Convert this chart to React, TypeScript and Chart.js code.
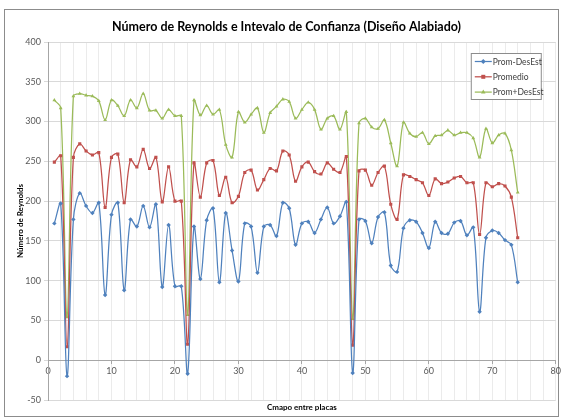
import React, { useEffect, useRef } from "react";
import { Chart, registerables } from "chart.js";

Chart.register(...registerables);

const xPositions = [
  1, 2, 3, 4, 5, 6, 7, 8, 9, 10, 11, 12, 13, 14, 15, 16, 17, 18, 19, 20,
  21, 22, 23, 24, 25, 26, 27, 28, 29, 30, 31, 32, 33, 34, 35, 36, 37, 38, 39, 40,
  41, 42, 43, 44, 45, 46, 47, 48, 49, 50, 51, 52, 53, 54, 55, 56, 57, 58, 59, 60,
  61, 62, 63, 64, 65, 66, 67, 68, 69, 70, 71, 72, 73, 74,
];

const promMenosDesEst = [
  172, 197, -20, 177, 210, 194, 185, 198, 82, 183, 198, 88, 177, 168, 194, 167, 196, 92, 170, 93,
  93, -17, 168, 102, 176, 191, 98, 185, 138, 99, 172, 168, 110, 168, 170, 156, 198, 191, 145, 172,
  174, 160, 177, 192, 172, 181, 199, -16, 177, 175, 147, 180, 186, 119, 111, 166, 176, 174, 160, 141,
  174, 160, 159, 173, 175, 157, 167, 61, 154, 163, 160, 151, 145, 98,
];

const promedio = [
  249, 257, 17, 255, 272, 263, 258, 261, 192, 255, 259, 198, 252, 243, 265, 241, 255, 199, 243, 200,
  200, 20, 248, 205, 248, 251, 207, 230, 198, 206, 236, 239, 214, 227, 241, 238, 263, 258, 225, 243,
  249, 237, 234, 248, 240, 236, 256, 19, 238, 239, 220, 236, 244, 196, 177, 233, 231, 227, 223, 207,
  228, 222, 224, 229, 231, 223, 223, 158, 223, 218, 222, 219, 205, 154,
];

const promMasDesEst = [
  327, 317, 54, 332, 335, 333, 332, 326, 302, 327, 320, 307, 327, 317, 335, 314, 314, 304, 315, 307,
  307, 57, 327, 308, 320, 309, 315, 271, 255, 312, 299, 309, 317, 286, 311, 319, 328, 325, 304, 315,
  324, 315, 290, 304, 307, 290, 312, 52, 298, 304, 293, 291, 302, 273, 244, 299, 285, 281, 286, 272,
  282, 283, 289, 283, 286, 286, 279, 255, 291, 273, 283, 285, 264, 211,
];

const seriesNames = ["Prom-DesEst", "Promedio", "Prom+DesEst"];
const seriesColors = ["#4F81BD", "#C0504D", "#9BBB59"];
const seriesMarkers = ["rectRot", "rect", "triangle"];

const chartTitle = "Número de Reynolds e Intevalo de Confianza (Diseño Alabiado)";
const xAxisTitle = "Cmapo entre placas";
const yAxisTitle = "Número de Reynolds";

const xMin = 0;
const xMax = 80;
const xMajorStep = 10;
const xMinorStep = 2;
const yMin = -50;
const yMax = 400;
const yStep = 50;

const FONT = "Lato, 'Open Sans', sans-serif";

function drawMarker(ctx: CanvasRenderingContext2D, style: string, x: number, y: number, r: number) {
  ctx.beginPath();
  if (style === "rectRot") {
    ctx.moveTo(x, y - r);
    ctx.lineTo(x + r, y);
    ctx.lineTo(x, y + r);
    ctx.lineTo(x - r, y);
  } else if (style === "rect") {
    ctx.rect(x - r * 0.8, y - r * 0.8, r * 1.6, r * 1.6);
  } else {
    ctx.moveTo(x, y - r);
    ctx.lineTo(x + r * 0.9, y + r * 0.6);
    ctx.lineTo(x - r * 0.9, y + r * 0.6);
  }
  ctx.closePath();
  ctx.fill();
}

const framePlugin = {
  id: "frame",
  beforeDraw(chart: any) {
    const { ctx, width, height } = chart;
    ctx.save();
    ctx.fillStyle = "#ffffff";
    ctx.fillRect(0, 0, width, height);
    ctx.strokeStyle = "#8c8c8c";
    ctx.lineWidth = 1;
    ctx.strokeRect(4.5, 9.5, width - 9, height - 11);
    ctx.restore();
  },
};

const boxLegendPlugin = {
  id: "boxLegend",
  afterDraw(chart: any) {
    const { ctx, chartArea } = chart;
    const x0 = chartArea.right - 85;
    const y0 = chartArea.top + 11;
    const w = 70;
    const h = 46;
    ctx.save();
    ctx.fillStyle = "#ffffff";
    ctx.fillRect(x0, y0, w, h);
    ctx.strokeStyle = "#8c8c8c";
    ctx.lineWidth = 1;
    ctx.strokeRect(x0 + 0.5, y0 + 0.5, w, h);
    ctx.font = `8.5px ${FONT}`;
    ctx.textBaseline = "middle";
    ctx.textAlign = "left";
    seriesNames.forEach((name, i) => {
      const cy = y0 + 8.5 + i * 15.3;
      ctx.strokeStyle = seriesColors[i];
      ctx.lineWidth = 1.25;
      ctx.beginPath();
      ctx.moveTo(x0 + 4, cy);
      ctx.lineTo(x0 + 21, cy);
      ctx.stroke();
      ctx.fillStyle = seriesColors[i];
      drawMarker(ctx, seriesMarkers[i], x0 + 12.5, cy, 2.5);
      ctx.fillStyle = "#404040";
      ctx.fillText(name, x0 + 22, cy + 0.5);
    });
    ctx.restore();
  },
};

export default function App() {
  const canvasRef = useRef<HTMLCanvasElement | null>(null);

  useEffect(() => {
    const canvas = canvasRef.current;
    if (!canvas) return;
    const seriesData = [promMenosDesEst, promedio, promMasDesEst];
    const chart = new Chart(canvas, {
      type: "line",
      data: {
        labels: xPositions,
        datasets: seriesNames.map((name, i) => ({
          label: name,
          data: seriesData[i],
          borderColor: seriesColors[i],
          backgroundColor: seriesColors[i],
          borderWidth: 1.25,
          pointStyle: seriesMarkers[i] as any,
          pointRadius: 2.2,
          pointBorderWidth: 0,
          tension: 0.35,
          fill: false,
          xAxisID: "x",
          yAxisID: "y",
        })),
      },
      options: {
        responsive: false,
        animation: false,
        devicePixelRatio: 1,
        layout: { padding: { left: 16, right: 6, top: 0, bottom: 0 } },
        plugins: {
          legend: { display: false },
          tooltip: { enabled: false },
          title: {
            display: true,
            text: chartTitle,
            color: "#000000",
            font: { family: FONT, size: 12.5, weight: "bold" },
            padding: { top: 19, bottom: 8 },
          },
        },
        scales: {
          x: {
            type: "linear",
            position: "bottom",
            min: xMin,
            max: xMax,
            ticks: { display: false, stepSize: xMinorStep, maxTicksLimit: 1000 },
            grid: { color: "#ebebeb", drawTicks: false },
            border: { display: false },
            title: {
              display: true,
              text: xAxisTitle,
              color: "#000000",
              font: { family: FONT, size: 8, weight: "bold" },
              padding: { top: 0, bottom: 6 },
            },
            afterFit: (scale: any) => {
              scale.height = 18;
            },
          },
          x2: {
            type: "linear",
            axis: "x",
            position: { y: 0 },
            min: xMin,
            max: xMax,
            ticks: {
              stepSize: xMajorStep,
              color: "#595959",
              font: { family: FONT, size: 9 },
              padding: 2,
              maxRotation: 0,
            },
            grid: { drawOnChartArea: false, tickLength: 3, color: "#a6a6a6" },
            border: { color: "#a6a6a6" },
          },
          y: {
            type: "linear",
            min: yMin,
            max: yMax,
            ticks: {
              stepSize: yStep,
              color: "#595959",
              font: { family: FONT, size: 9 },
              padding: 3,
            },
            grid: { color: "#d9d9d9", tickLength: 4 },
            border: { color: "#a6a6a6" },
            title: {
              display: true,
              text: yAxisTitle,
              color: "#000000",
              font: { family: FONT, size: 8, weight: "bold" },
              padding: { top: 0, bottom: 0 },
            },
            afterFit: (scale: any) => {
              scale.width = 32;
            },
          },
        } as any,
      },
      plugins: [framePlugin, boxLegendPlugin],
    });
    return () => chart.destroy();
  }, []);

  return (
    <div style={{ position: "fixed", left: 0, top: 0, width: 563, height: 418, background: "#fff" }}>
      <canvas ref={canvasRef} width={563} height={418} style={{ width: 563, height: 418, display: "block" }} />
    </div>
  );
}
